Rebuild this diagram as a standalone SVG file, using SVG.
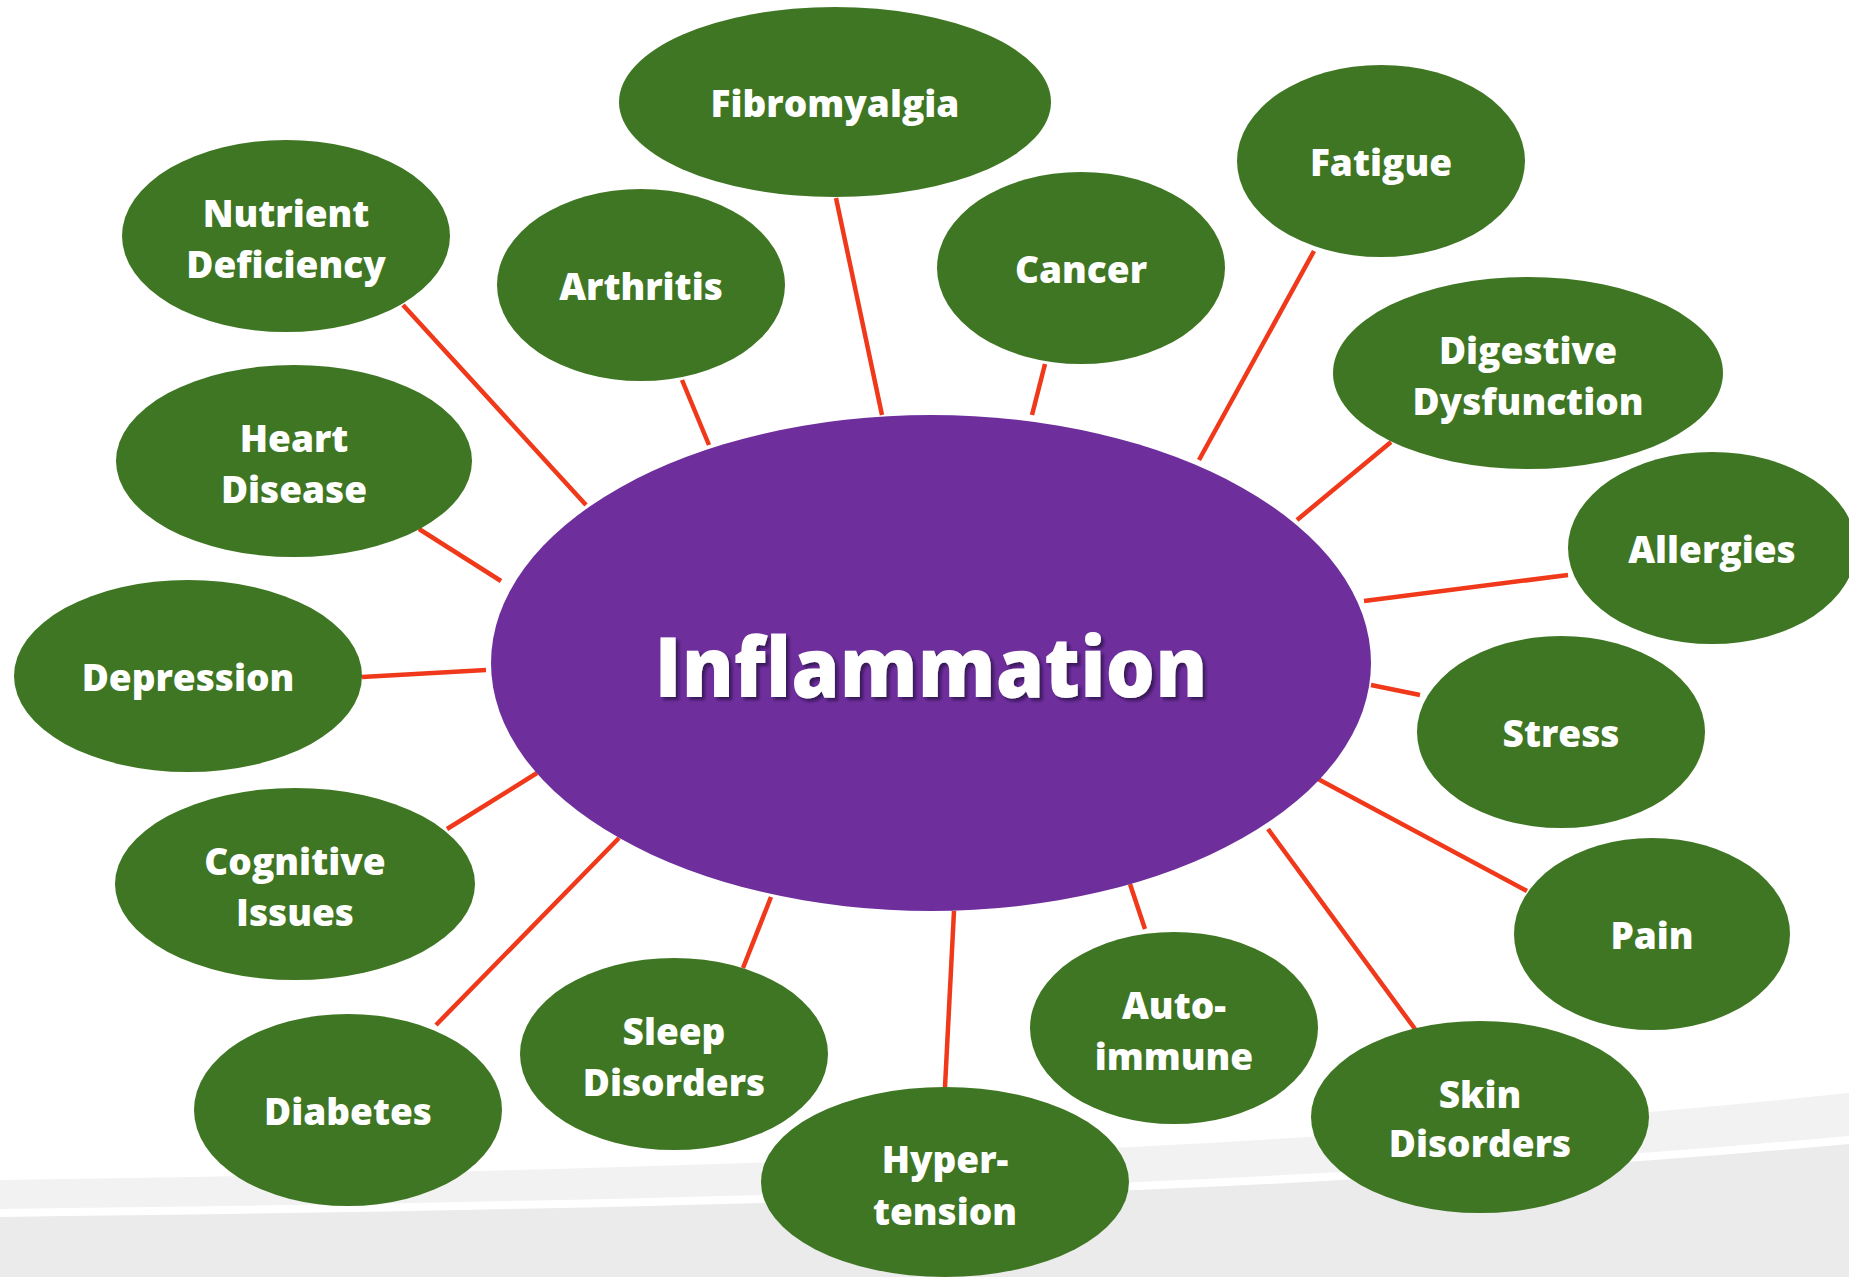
<svg xmlns="http://www.w3.org/2000/svg" width="1849" height="1277" viewBox="0 0 1849 1277">
  <style>
    .node { fill: #3f7623; }
    .hub { fill: #6e2f9c; }
    .link { stroke: #f0391a; stroke-width: 4.5; stroke-linecap: butt; fill: none; }
    .lbl { fill: #ffffff; font-family: "Open Sans", Lato, "DejaVu Sans", sans-serif; font-weight: 800; font-size: 37px; text-anchor: middle; font-variant-ligatures: none; }
    .hubLbl { fill: #ffffff; font-family: "Open Sans", Lato, "DejaVu Sans", sans-serif; font-weight: 800; font-size: 84px; text-anchor: middle; font-variant-ligatures: none; }
  </style>
  <defs>
    <filter id="textShadow" x="-10%" y="-20%" width="120%" height="150%">
      <feDropShadow dx="3" dy="3" stdDeviation="1.5" flood-color="#2a0c44" flood-opacity="0.75"/>
    </filter>
  </defs>

  <!-- page background with the swoosh along the bottom -->
  <g id="background">
    <rect x="0" y="0" width="1849" height="1277" fill="#ffffff"/>
    <path d="M0,1180 C700,1170 1300,1150 1849,1093 L1849,1277 L0,1277 Z" fill="#f2f2f2"/>
    <path d="M0,1213 C700,1205 1300,1190 1849,1140 L1849,1277 L0,1277 Z" fill="#ebebeb"/>
    <path d="M0,1213 C700,1205 1300,1190 1849,1140" fill="none" stroke="#ffffff" stroke-width="8"/>
  </g>

  <!-- spokes from the hub to each condition -->
  <g id="connectors">
    <line class="link" x1="403" y1="305" x2="586" y2="505"/>
    <line class="link" x1="682" y1="380" x2="709" y2="445"/>
    <line class="link" x1="836" y1="198" x2="882" y2="415"/>
    <line class="link" x1="1045" y1="364" x2="1032" y2="415"/>
    <line class="link" x1="1314" y1="251" x2="1199" y2="460"/>
    <line class="link" x1="1391" y1="442" x2="1297" y2="520"/>
    <line class="link" x1="1568" y1="575" x2="1364" y2="601"/>
    <line class="link" x1="1371" y1="685" x2="1420" y2="695"/>
    <line class="link" x1="1318" y1="779" x2="1527" y2="891"/>
    <line class="link" x1="1268" y1="829" x2="1415" y2="1029"/>
    <line class="link" x1="1130" y1="884" x2="1145" y2="929"/>
    <line class="link" x1="954" y1="911" x2="945" y2="1087"/>
    <line class="link" x1="771" y1="897" x2="743" y2="968"/>
    <line class="link" x1="619" y1="838" x2="436" y2="1025"/>
    <line class="link" x1="537" y1="773" x2="447" y2="829"/>
    <line class="link" x1="362" y1="677" x2="486" y2="670"/>
    <line class="link" x1="419" y1="529" x2="501" y2="581"/>
  </g>

  <g id="inflammation">
    <ellipse class="hub" cx="931" cy="663" rx="440" ry="248"/>
    <text class="hubLbl" x="931" y="697" textLength="553" lengthAdjust="spacingAndGlyphs" filter="url(#textShadow)">Inflammation</text>
  </g>

  <g id="fibromyalgia">
    <ellipse class="node" cx="835" cy="102" rx="216" ry="95"/>
    <text class="lbl" x="835" y="117">Fibromyalgia</text>
  </g>
  <g id="fatigue">
    <ellipse class="node" cx="1381" cy="161" rx="144" ry="96"/>
    <text class="lbl" x="1381" y="176">Fatigue</text>
  </g>
  <g id="nutrient-deficiency">
    <ellipse class="node" cx="286" cy="236" rx="164" ry="96"/>
    <text class="lbl" x="286" y="227">Nutrient</text>
    <text class="lbl" x="286" y="278">Deficiency</text>
  </g>
  <g id="arthritis">
    <ellipse class="node" cx="641" cy="285" rx="144" ry="96"/>
    <text class="lbl" x="641" y="300">Arthritis</text>
  </g>
  <g id="cancer">
    <ellipse class="node" cx="1081" cy="268" rx="144" ry="96"/>
    <text class="lbl" x="1081" y="283">Cancer</text>
  </g>
  <g id="digestive-dysfunction">
    <ellipse class="node" cx="1528" cy="373" rx="195" ry="96"/>
    <text class="lbl" x="1528" y="364">Digestive</text>
    <text class="lbl" x="1528" y="415">Dysfunction</text>
  </g>
  <g id="heart-disease">
    <ellipse class="node" cx="294" cy="461" rx="178" ry="96"/>
    <text class="lbl" x="294" y="452">Heart</text>
    <text class="lbl" x="294" y="503">Disease</text>
  </g>
  <g id="allergies">
    <ellipse class="node" cx="1712" cy="548" rx="144" ry="96"/>
    <text class="lbl" x="1712" y="563">Allergies</text>
  </g>
  <g id="depression">
    <ellipse class="node" cx="188" cy="676" rx="174" ry="96"/>
    <text class="lbl" x="188" y="691">Depression</text>
  </g>
  <g id="stress">
    <ellipse class="node" cx="1561" cy="732" rx="144" ry="96"/>
    <text class="lbl" x="1561" y="747">Stress</text>
  </g>
  <g id="cognitive-issues">
    <ellipse class="node" cx="295" cy="884" rx="180" ry="96"/>
    <text class="lbl" x="295" y="875">Cognitive</text>
    <text class="lbl" x="295" y="926">Issues</text>
  </g>
  <g id="pain">
    <ellipse class="node" cx="1652" cy="934" rx="138" ry="96"/>
    <text class="lbl" x="1652" y="949">Pain</text>
  </g>
  <g id="diabetes">
    <ellipse class="node" cx="348" cy="1110" rx="154" ry="96"/>
    <text class="lbl" x="348" y="1125">Diabetes</text>
  </g>
  <g id="sleep-disorders">
    <ellipse class="node" cx="674" cy="1054" rx="154" ry="96"/>
    <text class="lbl" x="674" y="1045">Sleep</text>
    <text class="lbl" x="674" y="1096">Disorders</text>
  </g>
  <g id="hypertension">
    <ellipse class="node" cx="945" cy="1182" rx="184" ry="95"/>
    <text class="lbl" x="945" y="1173">Hyper-</text>
    <text class="lbl" x="945" y="1225">tension</text>
  </g>
  <g id="auto-immune">
    <ellipse class="node" cx="1174" cy="1028" rx="144" ry="96"/>
    <text class="lbl" x="1174" y="1019">Auto-</text>
    <text class="lbl" x="1174" y="1070">immune</text>
  </g>
  <g id="skin-disorders">
    <ellipse class="node" cx="1480" cy="1117" rx="169" ry="96"/>
    <text class="lbl" x="1480" y="1108">Skin</text>
    <text class="lbl" x="1480" y="1157">Disorders</text>
  </g>
</svg>
